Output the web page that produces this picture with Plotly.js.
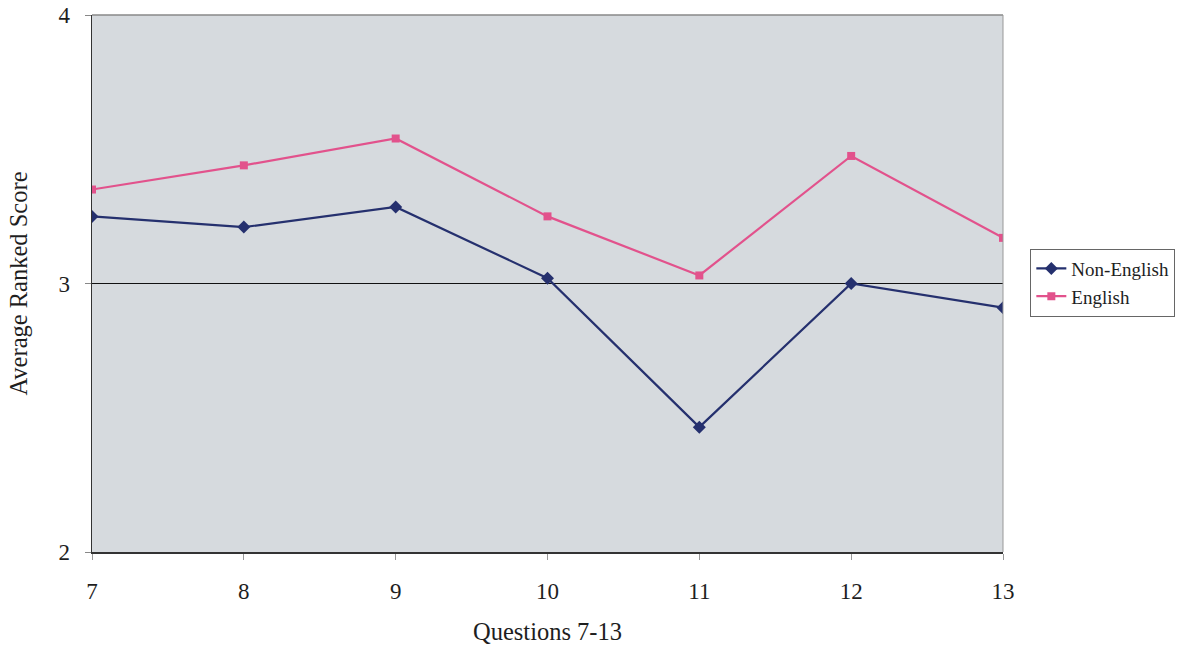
<!DOCTYPE html>
<html>
<head>
<meta charset="utf-8">
<script src="https://cdn.plot.ly/plotly-3.0.1.min.js"></script>
<style>html,body{margin:0;padding:0;background:#fff;}#chart{width:1181px;height:653px;}</style>
</head>
<body>
<div id="chart"></div>
<script>
const questions = [7, 8, 9, 10, 11, 12, 13];
const nonEnglish = [3.25, 3.21, 3.285, 3.02, 2.465, 3.0, 2.91];
const english = [3.35, 3.44, 3.54, 3.25, 3.03, 3.475, 3.17];
const yTicks = [2, 3, 4];

const fam = '"Liberation Serif", "Times New Roman", serif';
const ink = '#1e1e1e';

const traces = [
  {x: questions, y: nonEnglish, name: 'Non-English', mode: 'lines+markers',
   line: {color: '#25306e', width: 2.2}, marker: {symbol: 'diamond', size: 10, color: '#25306e'}},
  {x: questions, y: english, name: 'English', mode: 'lines+markers',
   line: {color: '#e2528c', width: 2.2}, marker: {symbol: 'square', size: 8, color: '#e2528c'}}
];

const layout = {
  width: 1181, height: 653,
  margin: {l: 92, r: 178, t: 15, b: 101, autoexpand: false},
  paper_bgcolor: '#ffffff',
  plot_bgcolor: '#d6dade',
  font: {family: fam, color: ink, size: 22},
  showlegend: true,
  legend: {x: 1.03, xanchor: 'left', y: 0.565, yanchor: 'top',
           bordercolor: '#666', borderwidth: 1, bgcolor: '#ffffff',
           font: {family: fam, size: 19, color: ink}, tracegroupgap: 0},
  xaxis: {
    range: [7, 13], tickvals: questions, ticktext: questions.map(String),
    showgrid: false, zeroline: false, automargin: false,
    showline: true, linecolor: '#333', linewidth: 1.5,
    ticks: 'outside', ticklen: 6, tickcolor: '#999', tickwidth: 1,
    ticklabelstandoff: 12,
    tickfont: {family: fam, size: 23, color: ink},
    title: {text: 'Questions 7-13', standoff: 20, font: {family: fam, size: 24.5, color: ink}}
  },
  yaxis: {
    range: [2, 4], tickvals: yTicks, ticktext: yTicks.map(String),
    showgrid: true, gridcolor: '#111', gridwidth: 1, zeroline: false, automargin: false,
    showline: true, linecolor: '#333', linewidth: 1.5,
    ticks: 'outside', ticklen: 6, tickcolor: '#888', tickwidth: 1,
    ticklabelstandoff: 10,
    tickfont: {family: fam, size: 23, color: ink},
    title: {text: 'Average Ranked Score', standoff: 24, font: {family: fam, size: 24.5, color: ink}}
  },
  shapes: [
    {type: 'line', xref: 'paper', yref: 'paper', x0: 0, x1: 1, y0: 1, y1: 1, line: {color: '#888', width: 1.5}},
    {type: 'line', xref: 'paper', yref: 'paper', x0: 1, x1: 1, y0: 0, y1: 1, line: {color: '#999', width: 1}}
  ]
};

Plotly.newPlot('chart', traces, layout, {displayModeBar: false, staticPlot: true});
</script>
</body>
</html>
